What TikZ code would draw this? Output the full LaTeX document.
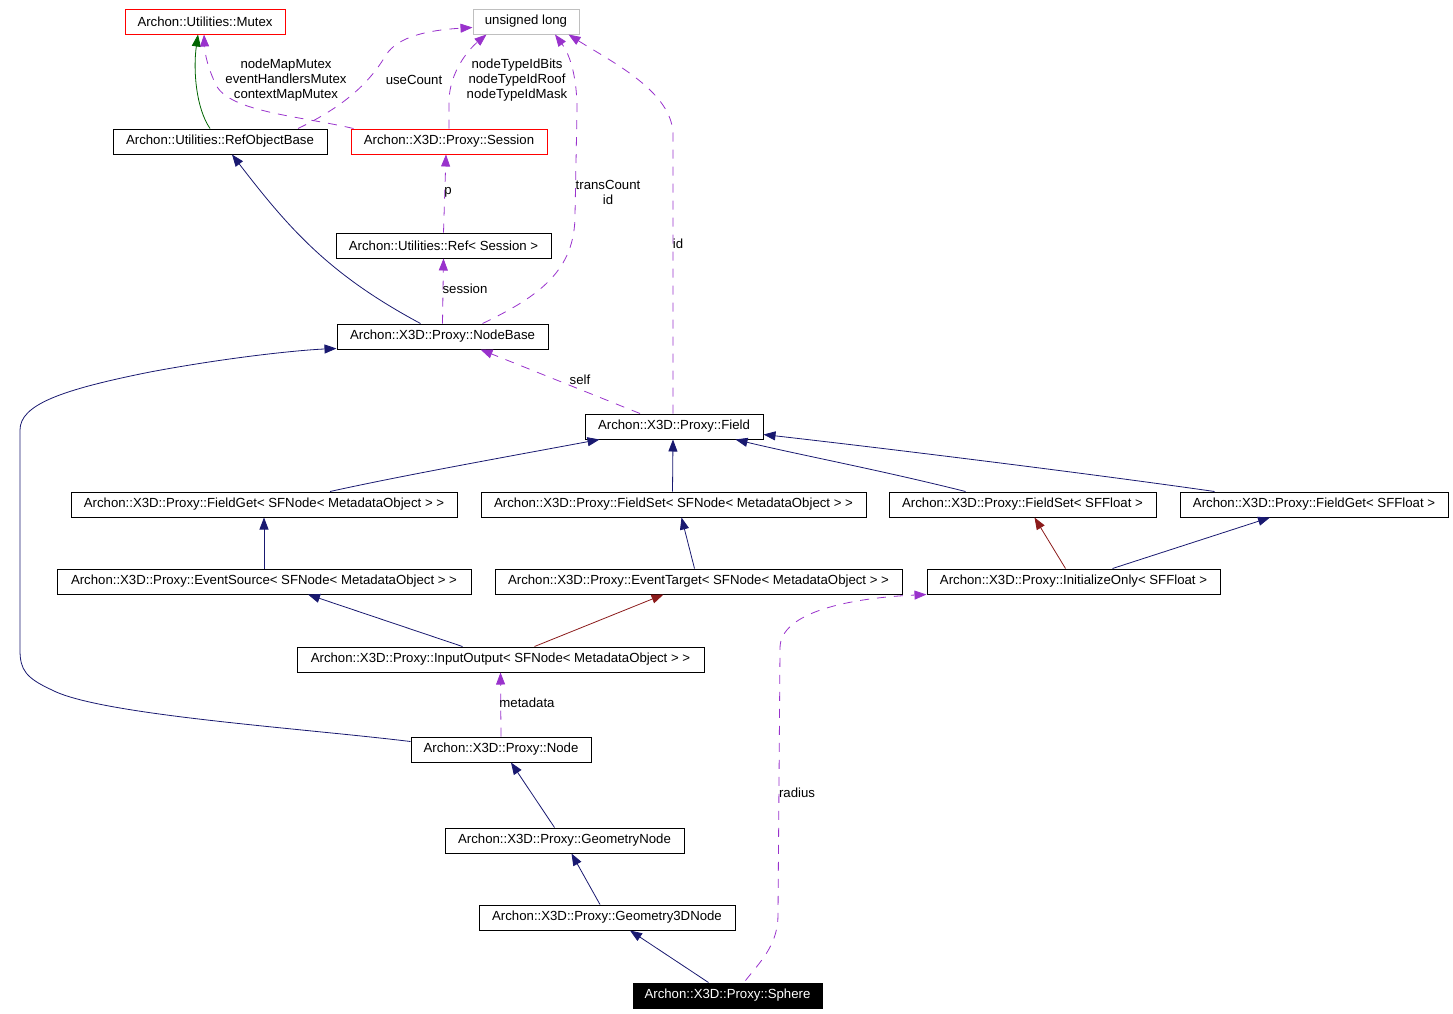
\documentclass[tikz,border=0pt]{standalone}
\usepackage{fontspec}
\setmainfont{Liberation Sans}
\usetikzlibrary{arrows.meta,calc}
\definecolor{navyedge}{RGB}{25,25,112}
\definecolor{purpedge}{RGB}{153,50,204}
\definecolor{rededge}{RGB}{139,26,26}
\definecolor{greenedge}{RGB}{0,100,0}
\definecolor{graybox}{RGB}{191,191,191}
\begin{document}
\begin{tikzpicture}[x=1pt,y=-1pt,
  box/.style={draw=black, line width=1pt, inner sep=0pt, minimum height=25pt, font=\fontsize{13.2}{15}\selectfont, anchor=center},
  redbox/.style={box, draw=red},
  graybx/.style={box, draw=graybox},
  blackbox/.style={box, fill=black, text=white},
  tip/.style={-{Triangle[length=12pt,width=9pt]}},
  inh/.style={tip, draw=navyedge, line width=0.8pt},
  prot/.style={tip, draw=rededge, line width=0.8pt},
  priv/.style={tip, draw=greenedge, line width=0.8pt},
  use/.style={tip, draw=purpedge, line width=0.8pt, dash pattern=on 9pt off 8pt},
  lbl/.style={font=\fontsize{13.2}{15}\selectfont, align=center, inner sep=0pt}
]
\useasboundingbox (0,0) rectangle (1453,1013);

\node[redbox, minimum width=160] (mutex) at (205,21.5) {Archon::Utilities::Mutex};
\node[graybx, minimum width=106] (ulong) at (526,21.5) {unsigned long};
\node[box, minimum width=214] (rob) at (220,141.5) {Archon::Utilities::RefObjectBase};
\node[redbox, minimum width=196] (session) at (449,141.5) {Archon::X3D::Proxy::Session};
\node[box, minimum width=215] (ref) at (443.5,245.5) {Archon::Utilities::Ref< Session >};
\node[box, minimum width=211] (nodebase) at (442.5,336.5) {Archon::X3D::Proxy::NodeBase};
\node[box, minimum width=178] (field) at (674,426.5) {Archon::X3D::Proxy::Field};
\node[box, minimum width=386] (fgnode) at (264,504.5) {Archon::X3D::Proxy::FieldGet< SFNode< MetadataObject > >};
\node[box, minimum width=385] (fsnode) at (673.5,504.5) {Archon::X3D::Proxy::FieldSet< SFNode< MetadataObject > >};
\node[box, minimum width=267] (fsfloat) at (1022.5,504.5) {Archon::X3D::Proxy::FieldSet< SFFloat >};
\node[box, minimum width=268] (fgfloat) at (1314,504.5) {Archon::X3D::Proxy::FieldGet< SFFloat >};
\node[box, minimum width=414] (esrc) at (264,581.5) {Archon::X3D::Proxy::EventSource< SFNode< MetadataObject > >};
\node[box, minimum width=407] (etgt) at (698.5,581.5) {Archon::X3D::Proxy::EventTarget< SFNode< MetadataObject > >};
\node[box, minimum width=293] (initonly) at (1073.5,581.5) {Archon::X3D::Proxy::InitializeOnly< SFFloat >};
\node[box, minimum width=407] (inout) at (500.5,659.5) {Archon::X3D::Proxy::InputOutput< SFNode< MetadataObject > >};
\node[box, minimum width=180] (node) at (501,749.5) {Archon::X3D::Proxy::Node};
\node[box, minimum width=239] (geom) at (564.5,840.5) {Archon::X3D::Proxy::GeometryNode};
\node[box, minimum width=256] (geom3d) at (607,917.5) {Archon::X3D::Proxy::Geometry3DNode};
\node[blackbox, minimum width=189] (sphere) at (727.5,995.5) {Archon::X3D::Proxy::Sphere};

% top edges
\draw[priv] ($(rob.north)+(-10,0)$) .. controls (196,108) and (193,70) .. ($(mutex.south)+(-7,0)$);
\draw[use] ($(session.north west)+(3,0)$) .. controls (300,116) and (230,112) .. (216,85) .. controls (208,68) and (205,55) .. ($(mutex.south)+(-1,0)$);
\draw[use] ($(rob.north)+(78,0)$) .. controls (345,106) and (370,82) .. (386,55) .. controls (398,36) and (430,30) .. ($(ulong.west)+(0,6)$);
\draw[use] (session.north) -- (449,100) .. controls (450,72) and (468,50) .. ($(ulong.south west)+(14,0)$);
\draw[use] ($(nodebase.north)+(40,0)$) .. controls (540,296) and (575,270) .. (575,215) -- (577,110) .. controls (577,72) and (568,52) .. ($(ulong.south)+(29,0)$);
\draw[use] ($(field.north)+(-1,0)$) -- (673,135) .. controls (673,92) and (612,62) .. ($(ulong.south east)+(-11,0)$);

\node[lbl] (l1) at (286,80) {nodeMapMutex\\eventHandlersMutex\\contextMapMutex};
\node[lbl] (l2) at (414,80) {useCount};
\node[lbl] (l3) at (517,80) {nodeTypeIdBits\\nodeTypeIdRoof\\nodeTypeIdMask};
\node[lbl] (l4) at (608,192) {transCount\\id};
\node[lbl] (l5) at (678,244) {id};

\draw[use] (ref.north) -- ($(session.south)+(-3,0)$);
\node[lbl] (l6) at (448,192) {p};
\draw[use] (nodebase.north) -- (ref.south);
\node[lbl] (l7) at (465,289) {session};
\draw[inh] ($(nodebase.north)+(-22,0)$) .. controls (330,275) and (290,230) .. ($(rob.south)+(12,0)$);

\draw[use] ($(field.north)+(-34,0)$) -- ($(nodebase.south)+(38,0)$);
\node[lbl] (l8) at (580,380) {self};

\draw[inh] ($(node.west)+(0,-8)$) .. controls (300,728) and (100,715) .. (52,690) .. controls (26,678) and (20,670) .. (20,650) -- (20,430) .. controls (20,405) and (60,390) .. (150,372) .. controls (230,357) and (300,350) .. ($(nodebase.south west)+(0,-1)$);

% Field children
\draw[inh] ($(fgnode.north)+(66,0)$) .. controls (400,476) and (500,458) .. ($(field.south west)+(15,0)$);
\draw[inh] ($(fsnode.north)+(-1,0)$) -- ($(field.south)+(-1,0)$);
\draw[inh] ($(fsfloat.north)+(-57,0)$) .. controls (880,470) and (800,455) .. ($(field.south east)+(-28,0)$);
\draw[inh] ($(fgfloat.north west)+(35,0)$) .. controls (1100,475) and (900,450) .. ($(field.east)+(0,8)$);

\draw[inh] (esrc.north) -- (fgnode.south);
\draw[inh] ($(etgt.north)+(-4,0)$) -- ($(fsnode.south)+(8,0)$);
\draw[prot] ($(initonly.north)+(-8,0)$) -- ($(fsfloat.south)+(12,0)$);
\draw[inh] ($(initonly.north)+(39,0)$) -- ($(fgfloat.south)+(-44,0)$);

\draw[inh] ($(inout.north)+(-38,0)$) -- ($(esrc.south)+(44,0)$);
\draw[prot] ($(inout.north)+(34,0)$) -- ($(etgt.south)+(-35,0)$);

\draw[use] (node.north) -- (inout.south);
\node[lbl] (l9) at (527,703) {metadata};

\draw[inh] ($(geom.north)+(-10,0)$) -- ($(node.south)+(10,0)$);
\draw[inh] ($(geom3d.north)+(-7,0)$) -- ($(geom.south)+(7,0)$);
\draw[inh] ($(sphere.north)+(-19,0)$) -- ($(geom3d.south)+(23,0)$);

\draw[use] ($(sphere.north)+(18,-2)$) .. controls (760,962) and (778,945) .. (778,915) -- (780,648) .. controls (780,612) and (850,598) .. ($(initonly.south west)+(0,0)$);
\node[lbl] (l10) at (797,793) {radius};
\end{tikzpicture}
\end{document}
